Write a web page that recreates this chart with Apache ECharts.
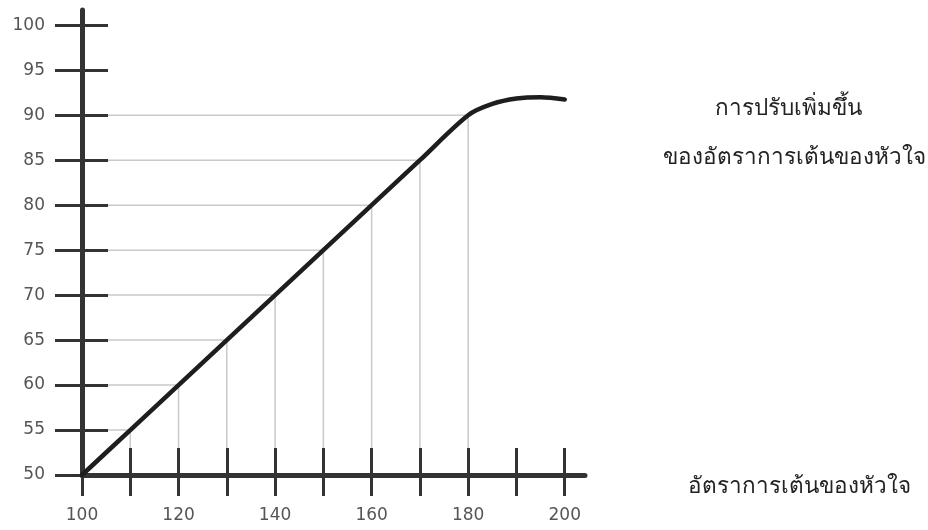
<!DOCTYPE html>
<html>
<head>
<meta charset="utf-8">
<script src="https://cdn.jsdelivr.net/npm/echarts@6/dist/echarts.min.js"></script>
<style>html,body{margin:0;padding:0;background:#fff}#c{width:928px;height:530px}</style>
</head>
<body>
<div id="c"></div>
<script>
// Data
const heartRate = [100, 110, 120, 130, 140, 150, 160, 170, 180, 185, 190, 195, 200];
const adjustment = [50, 55, 60, 65, 70, 75, 80, 85, 90, 91.25, 91.85, 92.0, 91.75];
const guideCount = 9; // points 100..180 carry guide lines
const xTicks = [100, 110, 120, 130, 140, 150, 160, 170, 180, 190, 200];
const xTickLabels = [100, 120, 140, 160, 180, 200];
const yTicks = [50, 55, 60, 65, 70, 75, 80, 85, 90, 95, 100];
const titleLine1 = 'การปรับเพิ่มขึ้น';
const titleLine2 = 'ของอัตราการเต้นของหัวใจ';
const xTitle = 'อัตราการเต้นของหัวใจ';
const xAxisMin = 100, xAxisEnd = 204.2;
const yAxisMin = 50, yAxisEnd = 101.7;

const chart = echarts.init(document.getElementById('c'), null, {renderer: 'canvas'});
const axisColor = '#333';
const guideColor = '#c9c9c9';
const labelFont = {color: '#555', fontSize: 17, fontFamily: 'DejaVu Sans, sans-serif'};

const series = [];
for (let i = 1; i < guideCount; i++) {
  const x = heartRate[i], y = adjustment[i];
  series.push({type: 'line', z: 1, silent: true, symbol: 'none', animation: false,
    lineStyle: {color: guideColor, width: 1.5},
    data: [[heartRate[0], y], [x, y]]});
  series.push({type: 'line', z: 1, silent: true, symbol: 'none', animation: false,
    lineStyle: {color: guideColor, width: 1.5},
    data: [[x, adjustment[0]], [x, y]]});
}
series.push({type: 'line', z: 6, symbol: 'none', smooth: 0.3, animation: false,
  lineStyle: {color: '#1e1e1e', width: 4.5, cap: 'round'},
  data: heartRate.map((x, i) => [x, adjustment[i]])});

chart.setOption({
  animation: false,
  grid: {left: 82, right: 343, top: 10, bottom: 55, containLabel: false},
  xAxis: [
    {type: 'value', position: 'bottom', z: 5, min: xAxisMin, max: xAxisEnd,
      axisLine: {show: true, onZero: false, lineStyle: {color: axisColor, width: 5}},
      axisTick: {show: true, inside: false, length: 21, customValues: xTicks, lineStyle: {color: axisColor, width: 3}},
      axisLabel: Object.assign({show: true, margin: 32, customValues: xTickLabels}, labelFont),
      splitLine: {show: false}},
    {type: 'value', position: 'bottom', z: 5, min: xAxisMin, max: xAxisEnd,
      axisLine: {show: false, onZero: false},
      axisTick: {show: true, inside: true, length: 27, customValues: xTicks, lineStyle: {color: axisColor, width: 3}},
      axisLabel: {show: false},
      splitLine: {show: false}}
  ],
  yAxis: [
    {type: 'value', position: 'left', z: 5, min: yAxisMin, max: yAxisEnd,
      axisLine: {show: true, onZero: false, lineStyle: {color: axisColor, width: 5}},
      axisTick: {show: true, inside: false, length: 27, customValues: yTicks, lineStyle: {color: axisColor, width: 3}},
      axisLabel: Object.assign({show: true, margin: 37, customValues: yTicks}, labelFont),
      splitLine: {show: false}},
    {type: 'value', position: 'left', z: 5, min: yAxisMin, max: yAxisEnd,
      axisLine: {show: false, onZero: false},
      axisTick: {show: true, inside: true, length: 26, customValues: yTicks, lineStyle: {color: axisColor, width: 3}},
      axisLabel: {show: false},
      splitLine: {show: false}}
  ],
  series: series,
  graphic: [
    {type: 'text', left: 'center', top: 97, style: {text: titleLine1, fill: '#222', font: '22.5px sans-serif'}, left: 715},
    {type: 'text', left: 663, top: 146, style: {text: titleLine2, fill: '#222', font: '22.5px sans-serif'}},
    {type: 'text', left: 688, top: 475, style: {text: xTitle, fill: '#222', font: '22.5px sans-serif'}}
  ]
});
</script>
</body>
</html>
